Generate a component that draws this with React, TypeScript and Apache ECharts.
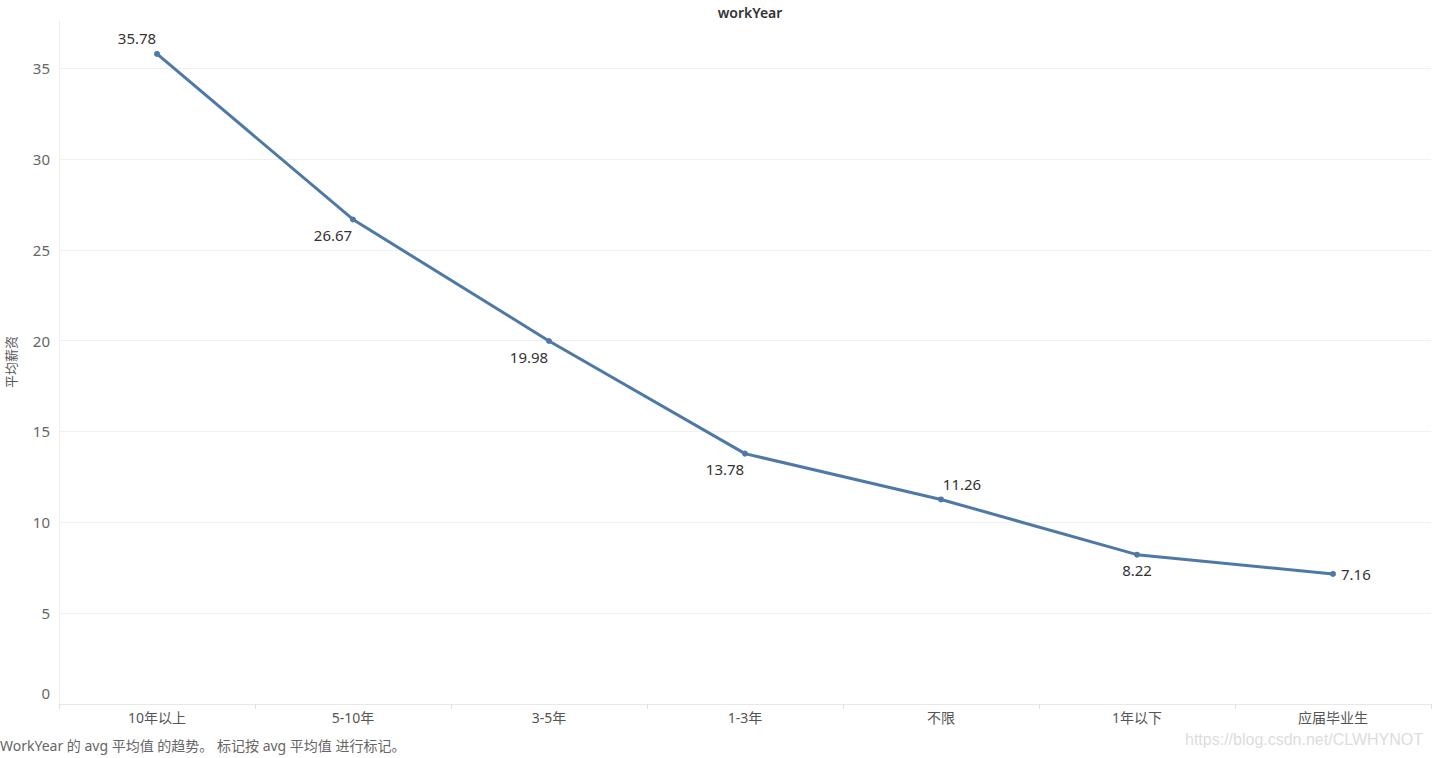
import React, { useEffect, useRef } from "react";
import * as echarts from "echarts";

const categories = ["10年以上", "5-10年", "3-5年", "1-3年", "不限", "1年以下", "应届毕业生"];
const avgSalary = [35.78, 26.67, 19.98, 13.78, 11.26, 8.22, 7.16];
const gridValues = [5, 10, 15, 20, 25, 30, 35];
const labelPositions = ["top", "bottom", "bottom", "bottom", "top", "bottom", "right"];
const labelOffsets = [[-20, 0], [-20, 0], [-20, 0], [-20, 0], [21, 0], [0, 0], [0, 0]];

const FONT = "'Noto Sans', 'Noto Sans CJK SC', sans-serif";

export default function App() {
  const ref = useRef<HTMLDivElement>(null);
  useEffect(() => {
    const chart = echarts.init(ref.current!, null, { renderer: "svg" });
    chart.setOption({
      animation: false,
      backgroundColor: "#ffffff",
      title: {
        text: "workYear",
        left: 745,
        top: 0,
        textAlign: "center",
        textStyle: { fontSize: 14, fontWeight: 600, color: "#333", fontFamily: FONT },
      },
      grid: { left: 59, right: 1, top: 20, bottom: 54, outerBoundsMode: "none", containLabel: false },
      xAxis: {
        type: "category",
        data: categories,
        axisLine: { show: true, onZero: false, lineStyle: { color: "#e8e8e8", width: 1 } },
        axisTick: { show: true, alignWithLabel: false, length: 5, lineStyle: { color: "#e0e0e0" } },
        axisLabel: { color: "#555", fontSize: 14, fontFamily: FONT, margin: 6 },
        splitLine: { show: false },
      },
      yAxis: {
        type: "value",
        min: 0,
        max: 37.65,
        interval: 5,
        name: "平均薪资",
        nameLocation: "middle",
        nameGap: 42,
        nameRotate: 90,
        nameTextStyle: { color: "#555", fontSize: 13, fontFamily: FONT },
        axisLine: { show: true, onZero: false, lineStyle: { color: "#eeeeee" } },
        axisTick: { show: false },
        axisLabel: {
          color: "#666",
          fontSize: 15,
          fontFamily: FONT,
          margin: 9,
          showMaxLabel: false,
          formatter: (v: number) => (v === 0 ? "{z|0}" : String(v)),
          rich: { z: { color: "#666", fontSize: 15, fontFamily: FONT, padding: [0, 0, 22, 0] } },
        },
        splitLine: { show: false },
      },
      series: [
        {
          type: "line",
          data: avgSalary.map((v, i) => ({
            value: v,
            label: { position: labelPositions[i], offset: labelOffsets[i] },
          })),
          symbol: "circle",
          symbolSize: 6,
          lineStyle: { color: "#4e79a7", width: 3 },
          itemStyle: { color: "#4e79a7" },
          label: {
            show: true,
            color: "#333",
            fontSize: 15,
            fontFamily: FONT,
            distance: 5,
            formatter: (p: any) => p.value.toFixed(2),
          },
          markLine: {
            silent: true,
            symbol: "none",
            label: { show: false },
            lineStyle: { color: "#f0f0f0", width: 1, type: "solid" },
            data: gridValues.map((v) => ({ yAxis: v })),
            z: 0,
          },
          z: 3,
        },
      ],
      graphic: [
        {
          type: "text",
          left: 0,
          top: 738,
          style: {
            text: "WorkYear 的 avg 平均值 的趋势。 标记按 avg 平均值 进行标记。",
            fill: "#666",
            fontSize: 14,
            fontFamily: FONT,
          },
        },
        {
          type: "text",
          left: 1185,
          top: 731,
          style: {
            text: "https://blog.csdn.net/CLWHYNOT",
            fill: "#dcdcdc",
            fontSize: 16,
            fontFamily: "'Liberation Sans', Arial, sans-serif",
          },
        },
      ],
    });
    return () => chart.dispose();
  }, []);
  return (
    <div
      ref={ref}
      style={{ position: "fixed", left: 0, top: 0, width: 1432, height: 758 }}
    />
  );
}
